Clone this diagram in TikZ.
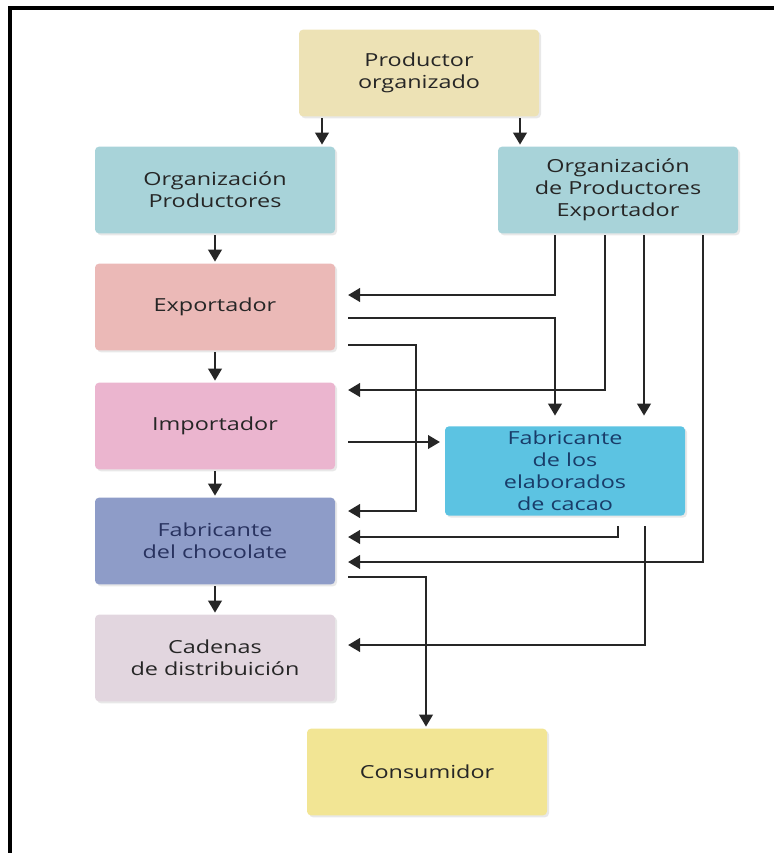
\documentclass[tikz,border=0pt]{standalone}
\usepackage{fontspec}
\setmainfont{Open Sans}[FakeStretch=1.3]
\usetikzlibrary{arrows.meta,shadows}

\definecolor{prodcol}{HTML}{EDE2B5}
\definecolor{orgcol}{HTML}{A8D3D9}
\definecolor{expcol}{HTML}{EBB9B7}
\definecolor{impcol}{HTML}{EBB5CF}
\definecolor{chocol}{HTML}{8E9CC8}
\definecolor{cadcol}{HTML}{E2D6DF}
\definecolor{concol}{HTML}{F2E594}
\definecolor{elabcol}{HTML}{5CC3E2}

\begin{document}
\begin{tikzpicture}[x=0.75pt, y=-0.75pt,
    caja/.style={rectangle, rounded corners=3pt, minimum width=180pt, minimum height=65pt, align=center, font=\fontsize{13.5}{16.5}\selectfont, text=black!85, outer xsep=9.75pt, outer ysep=1.5pt, drop shadow={opacity=0.18, shadow xshift=1.5pt, shadow yshift=-1.5pt}},
    flecha/.style={-{Triangle[width=10pt,length=9pt]}, line width=2.1pt, black!85}]
        \useasboundingbox (0,0) rectangle (774,853);
        \draw[line width=2.4pt] (774,8) -- (10,8) -- (10,853);

        \node[caja, fill=prodcol] (prod) at (419,73) {Productor\\organizado};
        \node[caja, fill=orgcol] (orgp) at (215,190) {Organización\\Productores};
        \node[caja, fill=orgcol] (ope) at (618,190) {Organización\\de Productores\\Exportador};
        \node[caja, fill=expcol] (expo) at (215,307) {Exportador};
        \node[caja, fill=impcol] (impo) at (215,426) {Importador};
        \node[caja, fill=chocol, text={rgb,255:red,40;green,50;blue,95}] (fabch) at (215,541) {Fabricante\\del chocolate};
        \node[caja, fill=cadcol] (cad) at (215,658) {Cadenas\\de distribuición};
        \node[caja, fill=concol] (cons) at (427,772) {Consumidor};
        \node[caja, fill=elabcol, minimum height=67pt, outer xsep=3.75pt, outer ysep=8pt, text={rgb,255:red,25;green,60;blue,105}] (fabel) at (565,471) {Fabricante\\de los\\elaborados\\de cacao};

        % carriles
        \coordinate (xa) at (322,0);
        \coordinate (xb) at (520,0);
        \coordinate (x1) at (555,0);
        \coordinate (x2) at (605,0);
        \coordinate (x3) at (644,0);
        \coordinate (x4) at (703,0);
        \coordinate (xe) at (416,0);
        \coordinate (xf1) at (618,0);
        \coordinate (xf2) at (645,0);
        \coordinate (xc) at (426,0);
        % filas
        \coordinate (r1) at (0,295);
        \coordinate (r2) at (0,318);
        \coordinate (r3) at (0,345);
        \coordinate (r4) at (0,390);
        \coordinate (r5) at (0,442);
        \coordinate (r6) at (0,511);
        \coordinate (r7) at (0,537);
        \coordinate (r8) at (0,562);
        \coordinate (r9) at (0,577);
        \coordinate (r10) at (0,645);

        \draw[flecha] (prod.south -| xa) -- (orgp.north -| xa);
        \draw[flecha] (prod.south -| xb) -- (ope.north -| xb);
        \draw[flecha] (orgp) -- (expo);
        \draw[flecha] (expo) -- (impo);
        \draw[flecha] (impo) -- (fabch);
        \draw[flecha] (fabch) -- (cad);

        \draw[flecha] (ope.south -| x1) |- (expo.east |- r1);
        \draw[flecha] (ope.south -| x2) |- (impo.east |- r4);
        \draw[flecha] (ope.south -| x3) -- (fabel.north -| x3);
        \draw[flecha] (ope.south -| x4) |- (fabch.east |- r8);

        \draw[flecha] (expo.east |- r2) -| (fabel.north -| x1);
        \draw[flecha] (expo.east |- r3) -| (xe |- r6) -- (fabch.east |- r6);
        \draw[flecha] (impo.east |- r5) -- (fabel.west |- r5);
        \draw[flecha] (fabel.south -| xf1) |- (fabch.east |- r7);
        \draw[flecha] (fabel.south -| xf2) |- (cad.east |- r10);
        \draw[flecha] (fabch.east |- r9) -| (cons.north -| xc);
\end{tikzpicture}
\end{document}
